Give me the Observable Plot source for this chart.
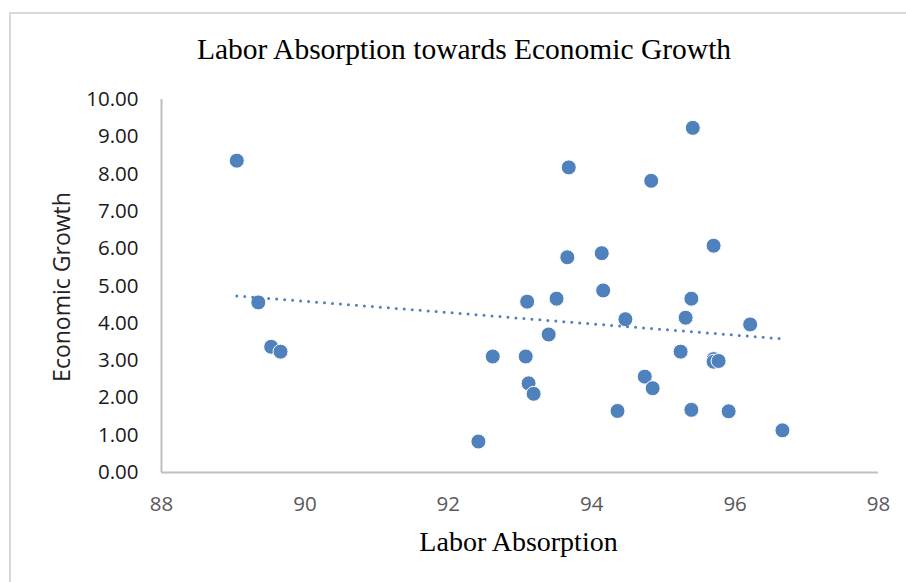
<!DOCTYPE html>
<html>
<head>
<meta charset="utf-8">
<script src="https://cdn.jsdelivr.net/npm/d3@7"></script>
<script src="https://cdn.jsdelivr.net/npm/@observablehq/plot@0.6"></script>
<style>
  body { margin: 0; background: #fff; }
  #frame { position: relative; width: 906px; height: 582px; background: #fff; overflow: hidden; }
  #border { position: absolute; left: 9px; top: 12px; width: 1000px; height: 700px; border-left: 2px solid #d9d9d9; border-top: 2px solid #d9d9d9; }
  #title { position: absolute; top: 35px; left: 0; width: 928px; text-align: center; font-family: "Liberation Serif", serif; font-size: 29.5px; line-height: 29.5px; color: #000; white-space: nowrap; }
  #chart { position: absolute; top: 80px; left: 0; }
  #xlabel { position: absolute; top: 528px; left: 0; width: 1037px; text-align: center; font-family: "Liberation Serif", serif; font-size: 28px; line-height: 28px; color: #000; white-space: nowrap; }
  #ylabel { position: absolute; left: 61px; top: 287px; transform: translate(-50%, -50%) rotate(-90deg); font-family: "Open Sans", sans-serif; font-size: 23px; color: #222; white-space: nowrap; }
</style>
</head>
<body>
<div id="frame">
  <div id="border"></div>
  <div id="title">Labor Absorption towards Economic Growth</div>
  <div id="chart"></div>
  <div id="xlabel">Labor Absorption</div>
  <div id="ylabel">Economic Growth</div>
</div>
<script>
// Labor Absorption (x) and Economic Growth (y)
const laborAbsorption = [
  89.05, 89.35, 89.53, 89.66, 92.42, 92.62, 93.08, 93.10, 93.12, 93.19,
  93.40, 93.51, 93.66, 93.68, 94.14, 94.16, 94.36, 94.47, 94.74, 94.83,
  94.85, 95.24, 95.31, 95.39, 95.39, 95.41, 95.70, 95.70, 95.70, 95.77,
  95.91, 96.21, 96.66
];
const economicGrowth = [
  8.36, 4.56, 3.37, 3.24, 0.83, 3.11, 3.11, 4.58, 2.39, 2.11,
  3.70, 4.66, 5.77, 8.18, 5.88, 4.88, 1.65, 4.11, 2.57, 7.82,
  2.26, 3.24, 4.15, 1.68, 4.66, 9.24, 6.08, 3.04, 2.97, 2.99,
  1.64, 3.97, 1.13
];
const xTicks = [88, 90, 92, 94, 96, 98];
const yTicks = [0, 1, 2, 3, 4, 5, 6, 7, 8, 9, 10];

const data = laborAbsorption.map((x, i) => ({x, y: economicGrowth[i]}));

const chart = Plot.plot({
  width: 906,
  height: 502,
  marginLeft: 161,
  marginRight: 28,
  marginTop: 19,
  marginBottom: 110,
  style: {fontFamily: "Open Sans, sans-serif", fontSize: "20.5px", background: "transparent", overflow: "visible"},
  x: {domain: [xTicks[0], xTicks[xTicks.length - 1]]},
  y: {domain: [yTicks[0], yTicks[yTicks.length - 1]]},
  marks: [
    Plot.axisY({ticks: yTicks, tickSize: 0, tickPadding: 23, tickFormat: d => d.toFixed(2), label: null, color: "#1a1a1a", fontSize: 20.5}),
    Plot.axisX({ticks: xTicks, tickSize: 0, tickPadding: 24, label: null, color: "#595959", fontSize: 20.5}),
    Plot.ruleX([xTicks[0]], {stroke: "#bfbfbf", strokeWidth: 2}),
    Plot.ruleY([yTicks[0]], {stroke: "#bfbfbf", strokeWidth: 2}),
    Plot.dot(data, {x: "x", y: "y", r: 7.5, fill: "#4f81bd", stroke: "#fff", strokeWidth: 1}),
    Plot.linearRegressionY(data, {x: "x", y: "y", ci: 0, stroke: "#4f81bd", strokeWidth: 3, strokeDasharray: "0 8", strokeLinecap: "round"})
  ]
});
document.getElementById("chart").appendChild(chart);
</script>
</body>
</html>
